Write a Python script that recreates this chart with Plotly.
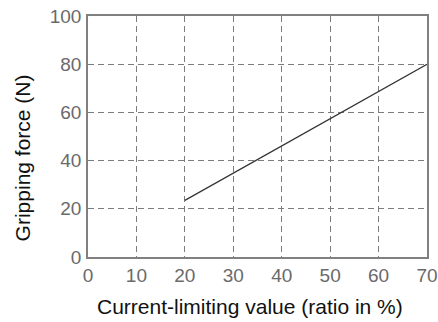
import plotly.graph_objects as go

current_pct = [20, 70]
grip_force = [23.5, 80]
x_ticks = [0, 10, 20, 30, 40, 50, 60, 70]
y_ticks = [0, 20, 40, 60, 80, 100]
x_title = "Current-limiting value (ratio in %)"
y_title = "Gripping force (N)"

FONT = "Liberation Sans, Arial, Helvetica"

fig = go.Figure()
fig.add_trace(go.Scatter(x=current_pct, y=grip_force, mode="lines",
                         line=dict(color="#333333", width=1.2), showlegend=False))

axis_common = dict(
    showgrid=True, gridcolor="#7c7c7c", gridwidth=1, griddash="6px,4px",
    showline=True, linecolor="#808080", linewidth=1.6, mirror=True,
    zeroline=False, ticks="", automargin=False, ticklabeloverflow="allow",
    tickfont=dict(family=FONT, size=19, color="#6a6a6a"),
)
fig.update_xaxes(range=[0, 70], tickvals=x_ticks, ticklabelstandoff=0, **axis_common)
fig.update_yaxes(range=[0, 100], tickvals=y_ticks, ticklabelstandoff=1, **axis_common)

fig.add_annotation(text=x_title, xref="paper", yref="paper", x=0.478, y=-0.205,
                   xanchor="center", yanchor="middle", showarrow=False,
                   font=dict(family=FONT, size=21, color="#111"))
fig.add_annotation(text=y_title, xref="paper", yref="paper", x=-0.192, y=0.413,
                   xanchor="center", yanchor="middle", showarrow=False, textangle=-90,
                   font=dict(family=FONT, size=21, color="#111"))

fig.update_layout(width=438, height=322, margin=dict(l=88, r=11, t=16, b=65),
                  paper_bgcolor="white", plot_bgcolor="white")
fig.write_html("out.html", config={"displayModeBar": False},
               post_script="document.body.style.margin='0';document.body.style.overflow='hidden';")
